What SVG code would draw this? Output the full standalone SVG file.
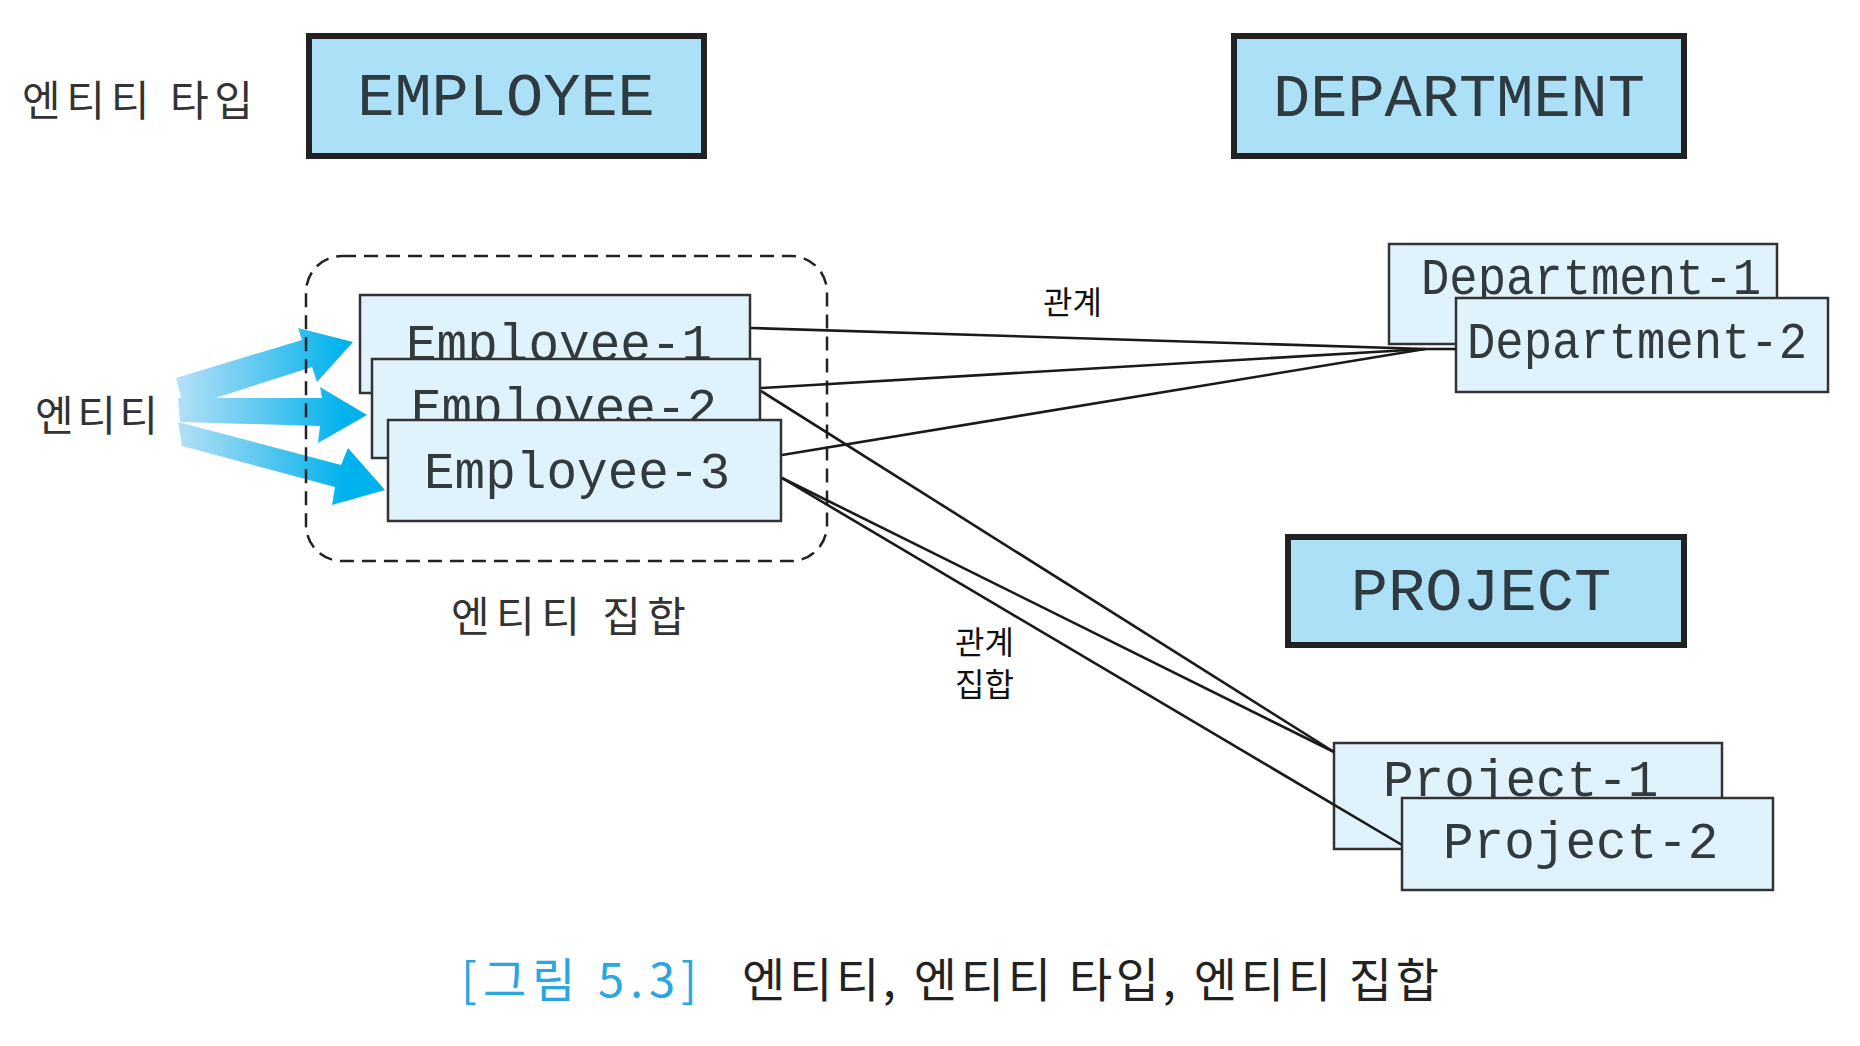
<svg xmlns="http://www.w3.org/2000/svg" width="1860" height="1046" viewBox="0 0 1860 1046">
<style>
.type{fill:#abe0f6;stroke:#222;stroke-width:6}
.inst{fill:#e0f2fc;stroke:#333;stroke-width:2.5}
.tt{font-family:"Liberation Mono","DejaVu Sans Mono",monospace;font-size:62px;fill:#2e3a40}
.it{font-family:"Liberation Mono","DejaVu Sans Mono",monospace;font-size:51px;fill:#333a3e}
.ko{font-family:"Noto Sans CJK KR",sans-serif;fill:#333}
.rel{font-family:"Noto Sans CJK KR",sans-serif;fill:#111;font-size:32px}
.conn{stroke:#1a1a1a;stroke-width:2.6;fill:none}
</style>
<defs>
<linearGradient id="ag" gradientUnits="userSpaceOnUse" x1="178" y1="0" x2="345" y2="0">
<stop offset="0" stop-color="#b4e0f7"/>
<stop offset="0.5" stop-color="#5cc8f0"/>
<stop offset="1" stop-color="#00b2ec"/>
</linearGradient>
</defs>

<!-- labels -->
<text class="ko" x="22" y="116" font-size="42" textLength="231" lengthAdjust="spacing">엔티티 타입</text>
<text class="ko" x="35" y="431" font-size="42" textLength="123" lengthAdjust="spacing">엔티티</text>
<text class="ko" x="451" y="632" font-size="42" textLength="235" lengthAdjust="spacing">엔티티 집합</text>
<text class="rel" x="1043" y="314">관계</text>
<text class="rel" x="955" y="654">관계</text>
<text class="rel" x="955" y="696">집합</text>

<!-- entity arrows -->
<g id="entity-arrows" fill="url(#ag)">
<polygon points="176,378 302,340 298,328 353,342 317,382 312,367 184,408"/>
<polygon points="178,398 322,398 320,387 367,415 318,443 320,426 180,422"/>
<polygon points="178,422 341,465 348,448 385,490 332,505 335,487 182,446"/>
</g>

<!-- entity set -->
<g id="entity-set">
<rect x="306" y="256" width="521" height="305" rx="36" ry="36" fill="none" stroke="#222" stroke-width="2.5" stroke-dasharray="14 8"/>
</g>

<!-- entity types -->
<g id="EMPLOYEE">
<rect class="type" x="309" y="36" width="395" height="120"/>
<text class="tt" x="506" y="115" text-anchor="middle">EMPLOYEE</text>
</g>
<g id="DEPARTMENT">
<rect class="type" x="1234" y="36" width="450" height="120"/>
<text class="tt" x="1459" y="116" text-anchor="middle">DEPARTMENT</text>
</g>
<g id="PROJECT">
<rect class="type" x="1288" y="537" width="396" height="108"/>
<text class="tt" x="1481" y="610" text-anchor="middle">PROJECT</text>
</g>

<!-- entities -->
<g id="Employee-1">
<rect class="inst" x="360" y="295" width="390" height="98"/>
<text class="it" x="406" y="360">Employee-1</text>
</g>
<g id="Employee-2">
<rect class="inst" x="372" y="359" width="388" height="99"/>
<text class="it" x="411" y="424">Employee-2</text>
</g>
<g id="Employee-3">
<rect class="inst" x="388" y="420" width="393" height="101"/>
<text class="it" x="424" y="488">Employee-3</text>
</g>
<g id="Department-1">
<rect class="inst" x="1389" y="244" width="388" height="100"/>
<text class="it" x="1421" y="294" textLength="340" lengthAdjust="spacingAndGlyphs">Department-1</text>
</g>
<g id="Department-2">
<rect class="inst" x="1456" y="298" width="372" height="94"/>
<text class="it" x="1467" y="358" textLength="340" lengthAdjust="spacingAndGlyphs">Department-2</text>
</g>
<g id="Project-1">
<rect class="inst" x="1334" y="743" width="388" height="106"/>
<text class="it" x="1383" y="796">Project-1</text>
</g>

<!-- connectors -->
<g id="connectors" class="conn">
<line class="conn" x1="751" y1="328" x2="1425" y2="349"/>
<line class="conn" x1="761" y1="388" x2="1425" y2="349"/>
<line class="conn" x1="782" y1="455" x2="1425" y2="349"/>
<line class="conn" x1="1425" y1="349" x2="1456" y2="349" stroke-width="3.2"/>
<line class="conn" x1="761" y1="391" x2="1334" y2="752"/>
<line class="conn" x1="782" y1="478" x2="1334" y2="752"/>
<line class="conn" x1="782" y1="478" x2="1402" y2="845"/>
</g>

<g id="Project-2">
<rect class="inst" x="1402" y="798" width="371" height="92"/>
<text class="it" x="1443" y="858">Project-2</text>
</g>

<!-- caption -->
<g id="caption">
<text x="461" y="997" font-family="Noto Sans CJK KR, sans-serif" font-size="47" fill="#2aa6e0" textLength="236" lengthAdjust="spacing">[그림 5.3]</text>
<text x="742" y="997" font-family="Noto Sans CJK KR, sans-serif" font-size="47" fill="#222" textLength="697" lengthAdjust="spacing">엔티티, 엔티티 타입, 엔티티 집합</text>
</g>
</svg>
